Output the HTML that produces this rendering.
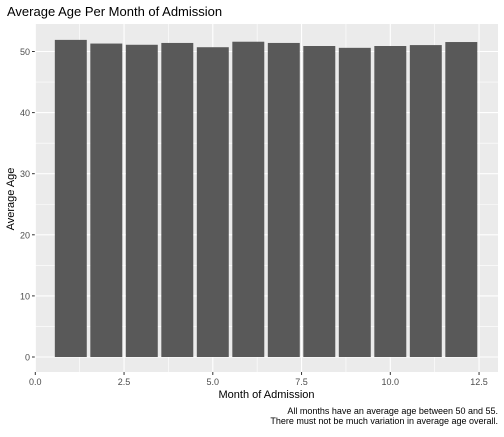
<!DOCTYPE html>
<html><head><meta charset="utf-8"><style>
body{margin:0;background:#fff;font-family:"Liberation Sans",Arial,sans-serif}
svg text{font-family:"Liberation Sans",Arial,sans-serif}
</style></head><body>
<svg id="c" width="504" height="432" xmlns="http://www.w3.org/2000/svg"></svg>
<script>
const months=[1,2,3,4,5,6,7,8,9,10,11,12];
const avgAge=[51.9,51.3,51.1,51.4,50.7,51.6,51.4,50.9,50.6,50.9,51.05,51.55];
const yTicks=[0,10,20,30,40,50];
const xTicks=[0,2.5,5,7.5,10,12.5];
const xTickLabels=["0.0","2.5","5.0","7.5","10.0","12.5"];
const L=35,R=498,T=24,B=372;
const x=v=>35.3+v*35.5;
const y=v=>357-v*6.11;
const s=document.getElementById('c');
const NS='http://www.w3.org/2000/svg';
function mk(t,a,p){const e=document.createElementNS(NS,t);for(const k in a)e.setAttribute(k,a[k]);(p||s).appendChild(e);return e;}
const panel=mk('rect',{x:L,y:T,width:R-L,height:B-T,fill:'#ebebeb'});


for(let v=5;v<=55;v+=10){if(y(v)>T)mk('line',{x1:L,x2:R,y1:y(v),y2:y(v),stroke:'#fff','stroke-width':0.6});}
for(let v=1.25;v<13;v+=2.5)mk('line',{x1:x(v),x2:x(v),y1:T,y2:B,stroke:'#fff','stroke-width':0.6});
yTicks.forEach(v=>{
 mk('line',{x1:L,x2:R,y1:y(v),y2:y(v),stroke:'#fff','stroke-width':1.1});
 mk('line',{x1:L-3,x2:L,y1:y(v),y2:y(v),stroke:'#333','stroke-width':1});
 const t=mk('text',{x:L-5,y:y(v)+3.5,'text-anchor':'end','font-size':9,fill:'#4d4d4d'});t.textContent=v;
 
 
});
xTicks.forEach((v,i)=>{
 mk('line',{x1:x(v),x2:x(v),y1:T,y2:B,stroke:'#fff','stroke-width':1.1});
 mk('line',{x1:x(v),x2:x(v),y1:B,y2:B+3,stroke:'#333','stroke-width':1});
 const t=mk('text',{x:x(v),y:B+13,'text-anchor':'middle','font-size':9,fill:'#4d4d4d'});t.textContent=xTickLabels[i];
 
 
});
months.forEach((m,i)=>{
 const r=mk('rect',{x:x(m-0.45),y:y(avgAge[i]),width:x(m+0.45)-x(m-0.45),height:y(0)-y(avgAge[i]),fill:'#595959'});
 
 
});
</script>
<div style="position:absolute;left:7px;top:4px;font-size:13px;color:#000">Average Age Per Month of Admission</div>
<div style="position:absolute;left:0;width:533px;top:389px;text-align:center;font-size:11px;color:#000">Month of Admission</div>
<div style="position:absolute;left:-39px;top:193px;width:100px;text-align:center;transform:rotate(-90deg);font-size:11px;color:#000">Average Age</div>
<div style="position:absolute;right:6px;top:406px;text-align:right;font-size:9px;line-height:10px;color:#000">All months have an average age between 50 and 55.<br>There must not be much variation in average age overall.</div>
</body></html>
